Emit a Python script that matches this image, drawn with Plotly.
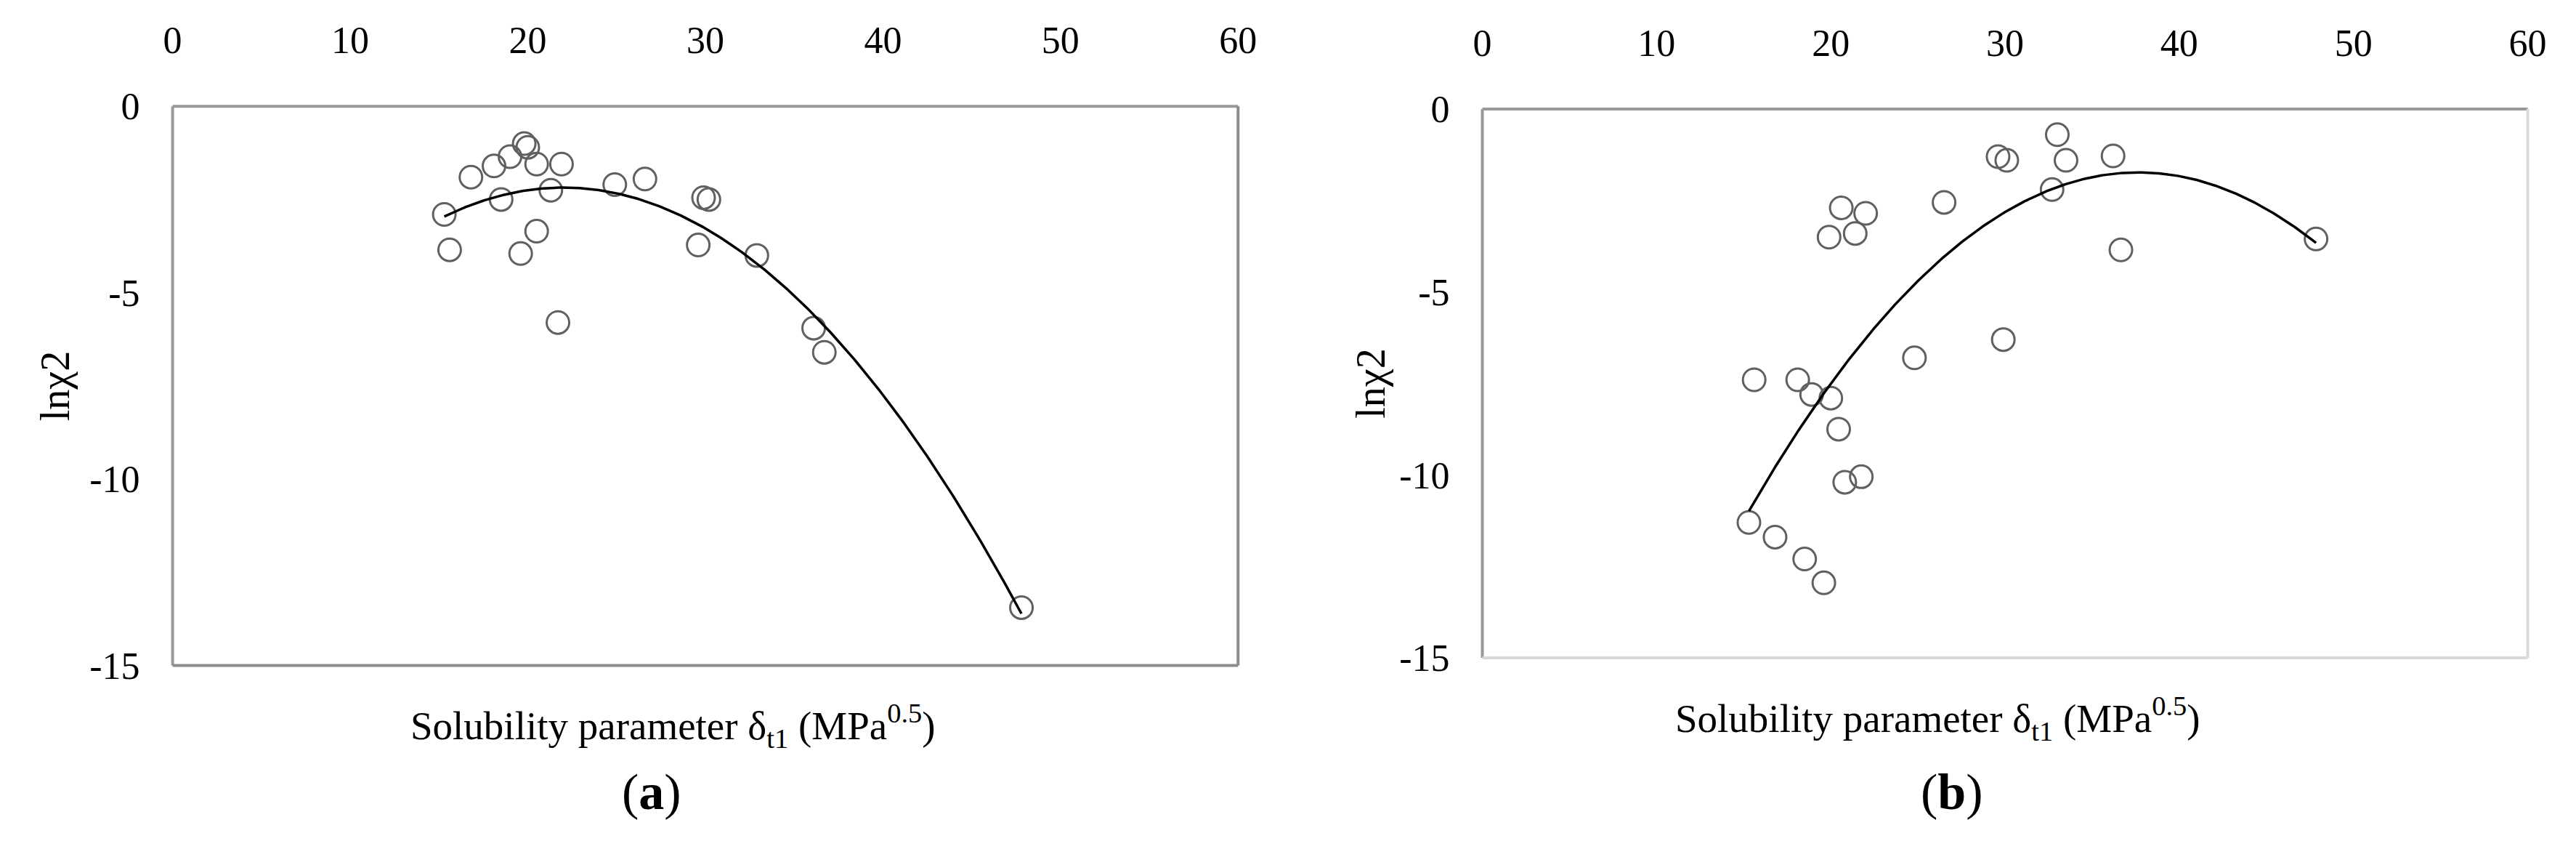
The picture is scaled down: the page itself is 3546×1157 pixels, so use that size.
import numpy as np
import plotly.graph_objects as go

W, H = 3546, 1157

# ---------------- data ----------------
# Panel (a)
delta_a = [15.3, 15.6, 16.8, 18.1, 18.5, 19.0, 19.8, 20.0, 20.5, 21.9, 21.3,
           20.5, 19.6, 21.7, 24.9, 26.6, 29.9, 30.2, 29.6, 32.9, 36.1, 36.7, 47.8]
lnx2_a = [-2.9, -3.85, -1.9, -1.6, -2.5, -1.35, -1.0, -1.1, -1.55, -1.55, -2.25,
          -3.35, -3.95, -5.8, -2.1, -1.95, -2.45, -2.5, -3.72, -4.0, -5.95, -6.6, -13.45]

# Panel (b)
delta_b = [15.3, 15.6, 16.8, 18.1, 18.5, 18.9, 20.0, 19.6, 20.45, 20.8, 21.75,
           19.9, 20.6, 21.4, 22.0, 24.8, 26.5, 29.6, 30.1, 29.9, 32.7, 33.0,
           33.5, 36.2, 36.65, 47.85]
lnx2_b = [-11.3, -7.4, -11.7, -7.4, -12.3, -7.8, -7.9, -12.95, -8.75, -10.2, -10.05,
          -3.5, -2.7, -3.4, -2.85, -6.8, -2.55, -1.3, -1.4, -6.3, -2.2, -0.7,
          -1.4, -1.28, -3.85, -3.55]

x_ticks = [0, 10, 20, 30, 40, 50, 60]
x_tick_text = ["0", "10", "20", "30", "40", "50", "60"]
y_ticks = [-15, -10, -5, 0]
y_tick_text = ["-15", "-10", "-5", "0"]

x_title = "Solubility parameter δ<sub>t1</sub> (MPa<sup>0.5</sup>)"
y_title = "lnχ2"
panel_labels = ["(<b>a</b>)", "(<b>b</b>)"]

FONT = "Liberation Serif, Times New Roman, serif"


def px_x(p):
    return p / W


def px_y(p):
    return 1 - p / H


fig = go.Figure()

panels = [
    dict(x=delta_a, y=lnx2_a, xa="x", ya="y", box=(219, 1702, 116, 925),
         br_col="#8c8c8c", ylab_x=55, title_x=916, title_y=1012, lab_x=886),
    dict(x=delta_b, y=lnx2_b, xa="x2", ya="y2", box=(2042, 3497, 120, 914),
         br_col="#d9d9d9", ylab_x=1886, title_x=2676, title_y=1002, lab_x=2696),
]

for i, p in enumerate(panels):
    xs = np.array(p["x"])
    ys = np.array(p["y"])
    coef = np.polyfit(xs, ys, 2)
    xf = np.linspace(xs.min(), xs.max(), 300)
    yf = np.polyval(coef, xf)
    fig.add_trace(go.Scatter(x=xs, y=ys, mode="markers", xaxis=p["xa"], yaxis=p["ya"],
                             marker=dict(symbol="circle-open", size=31, color="#606060",
                                         line=dict(width=3, color="#606060")),
                             showlegend=False, hoverinfo="x+y"))
    fig.add_trace(go.Scatter(x=xf, y=yf, mode="lines", xaxis=p["xa"], yaxis=p["ya"],
                             line=dict(color="black", width=3.5), showlegend=False))

    l, r, t, b = p["box"]
    suffix = "" if i == 0 else "2"
    xaxis = dict(domain=[px_x(l), px_x(r)], range=[0, 60], side="top",
                 tickvals=x_ticks, ticktext=x_tick_text, showgrid=False, zeroline=False,
                 showline=False, ticks="", ticklabelstandoff=62,
                 tickfont=dict(family=FONT, size=52, color="black"),
                 anchor="y" + suffix, fixedrange=True)
    yaxis = dict(domain=[px_y(b), px_y(t)], range=[-15, 0],
                 tickvals=y_ticks, ticktext=y_tick_text, showgrid=False, zeroline=False,
                 showline=False, ticks="", ticklabelstandoff=44,
                 tickfont=dict(family=FONT, size=52, color="black"),
                 anchor="x" + suffix, fixedrange=True)
    fig.layout["xaxis" + suffix] = xaxis
    fig.layout["yaxis" + suffix] = yaxis

    xref = "x" + suffix + " domain"
    yref = "y" + suffix + " domain"
    # frame: top and left gray, bottom and right per panel
    fig.add_shape(type="line", xref=xref, yref=yref, x0=0, x1=1, y0=1, y1=1,
                  line=dict(color="#999999", width=4))
    fig.add_shape(type="line", xref=xref, yref=yref, x0=0, x1=0, y0=0, y1=1,
                  line=dict(color="#999999", width=4))
    fig.add_shape(type="line", xref=xref, yref=yref, x0=0, x1=1, y0=0, y1=0,
                  line=dict(color=p["br_col"], width=4))
    fig.add_shape(type="line", xref=xref, yref=yref, x0=1, x1=1, y0=0, y1=1,
                  line=dict(color=p["br_col"], width=4))

    # axis titles
    fig.add_annotation(text=y_title, xref="paper", yref="paper",
                       x=px_x(p["ylab_x"]), y=px_y((t + b) / 2), textangle=-90,
                       showarrow=False, xanchor="center", yanchor="middle",
                       font=dict(family=FONT, size=56, color="black"))
    fig.add_annotation(text=x_title, xref="paper", yref="paper",
                       x=px_x(p["title_x"]), y=px_y(p["title_y"]),
                       showarrow=False, xanchor="center", yanchor="middle",
                       font=dict(family=FONT, size=55, color="black"))
    fig.add_annotation(text=panel_labels[i], xref="paper", yref="paper",
                       x=px_x(p["lab_x"]), y=px_y(1108),
                       showarrow=False, xanchor="center", yanchor="middle",
                       font=dict(family=FONT, size=70, color="black"))

fig.update_layout(width=W, height=H, margin=dict(l=0, r=0, t=0, b=0),
                  paper_bgcolor="white", plot_bgcolor="white")

fig.write_html("out.html")
